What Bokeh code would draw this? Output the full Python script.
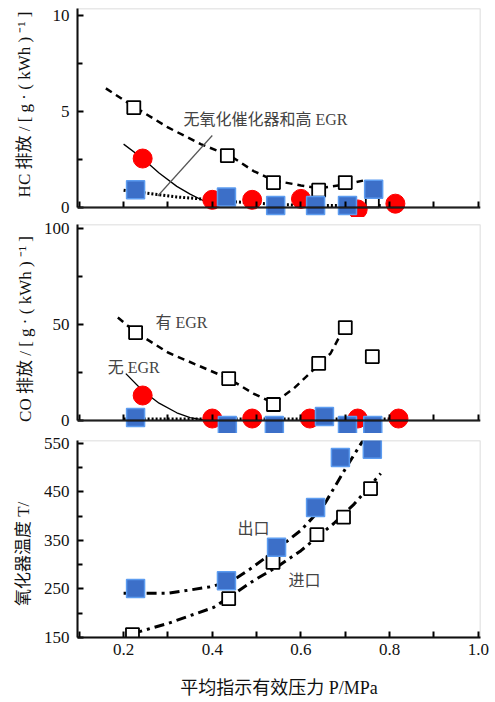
from bokeh.plotting import figure
from bokeh.layouts import column
from bokeh.models import Range1d, FixedTicker, BoxAnnotation, Label, PrintfTickFormatter
from bokeh.embed import file_html
from bokeh.resources import INLINE

# ---------------- data ----------------
# HC emission [g/(kWh)]
hc_egr_x = [0.223, 0.434, 0.538, 0.640, 0.700, 0.761]
hc_egr_y = [5.2, 2.7, 1.3, 0.9, 1.3, 0.35]
hc_noegr_x = [0.243, 0.400, 0.490, 0.600, 0.728, 0.813]
hc_noegr_y = [2.55, 0.4, 0.4, 0.45, -0.1, 0.2]
hc_cat_x = [0.227, 0.432, 0.543, 0.633, 0.705, 0.764]
hc_cat_y = [0.93, 0.55, 0.1, 0.1, 0.1, 0.95]
# HC trend curves
hc_egr_fit_x = [0.16, 0.22, 0.30, 0.374, 0.44, 0.493, 0.54, 0.60, 0.64, 0.70, 0.74]
hc_egr_fit_y = [6.2, 5.3, 4.17, 3.3, 2.7, 1.9, 1.4, 1.15, 1.0, 1.2, 1.4]
hc_noegr_fit_x = [0.20, 0.243, 0.28, 0.32, 0.35, 0.38, 0.42]
hc_noegr_fit_y = [3.3, 2.55, 1.8, 1.1, 0.7, 0.35, 0.15]
hc_cat_fit_x = [0.20, 0.25, 0.32, 0.40, 0.45, 0.55, 0.65, 0.78]
hc_cat_fit_y = [0.9, 0.75, 0.55, 0.4, 0.3, 0.15, 0.1, 0.1]
hc_leader_x = [0.277, 0.400]
hc_leader_y = [0.6, 3.75]

# CO emission [g/(kWh)]
co_egr_x = [0.227, 0.437, 0.538, 0.640, 0.700, 0.761]
co_egr_y = [45.8, 21.8, 8.3, 29.7, 48.4, 33.3]
co_noegr_x = [0.243, 0.400, 0.490, 0.620, 0.728, 0.820]
co_noegr_y = [13.0, 1.0, 1.0, 1.0, 1.0, 1.0]
co_cat_x = [0.227, 0.434, 0.540, 0.653, 0.705, 0.762]
co_cat_y = [1.5, -2.6, -2.6, 2.0, -2.6, -2.6]
co_egr_fit_x = [0.187, 0.227, 0.30, 0.437, 0.493, 0.538, 0.584, 0.64, 0.667, 0.69]
co_egr_fit_y = [53.6, 46.0, 35.4, 21.8, 14.0, 9.0, 16.7, 29.0, 35.0, 45.0]
co_noegr_fit_x = [0.205, 0.243, 0.28, 0.32, 0.35, 0.38]
co_noegr_fit_y = [24.4, 15.5, 9.0, 4.0, 1.5, 0.3]
co_cat_fit_x = [0.20, 0.50, 0.80]
co_cat_fit_y = [0.8, 0.8, 0.8]

# Oxidation catalyst temperature
t_out_x = [0.227, 0.432, 0.545, 0.633, 0.689, 0.761]
t_out_y = [251, 267, 336, 418, 521, 538]
t_in_x = [0.220, 0.437, 0.537, 0.636, 0.696, 0.757]
t_in_y = [156, 230, 305, 362, 398, 457]
t_out_fit_x = [0.20, 0.30, 0.40, 0.45, 0.49, 0.55, 0.60, 0.65, 0.705, 0.74]
t_out_fit_y = [241, 241, 255, 270, 294, 335, 371, 420, 505, 556]
t_in_fit_x = [0.22, 0.30, 0.403, 0.493, 0.55, 0.60, 0.674, 0.72, 0.78]
t_in_fit_y = [158, 179, 212, 267, 298, 329, 385, 425, 488]

x_major = [0.2, 0.4, 0.6, 0.8, 1.0]
x_minor = [0.1, 0.3, 0.5, 0.7, 0.9]

SERIF = "'Liberation Serif'"
MIXED = "'Liberation Serif', 'Noto Sans CJK SC'"
NB = "\u00a0"

RED = "#ff0000"
BLUE_FILL = "#3c6fc8"
BLUE_LINE = "#5c9cf0"


def make_fig(y0, y1, frame_h, top_b, bottom_b, ymaj, ymin, ylabel, standoff, bottom_axis=True):
    p = figure(output_backend="svg", toolbar_location=None,
               frame_width=403, frame_height=frame_h,
               x_range=Range1d(0.096, 1.005), y_range=Range1d(y0, y1),
               min_border_left=77, min_border_right=15,
               min_border_top=top_b, min_border_bottom=bottom_b,
               outline_line_color=None, background_fill_color="white",
               border_fill_color="white")
    p.grid.visible = False
    ya = p.yaxis[0]
    ya.ticker = FixedTicker(ticks=ymaj, minor_ticks=ymin)
    ya.axis_line_width = 2
    ya.major_tick_line_width = 2
    ya.minor_tick_line_width = 2
    ya.major_tick_in = 6
    ya.major_tick_out = 0
    ya.minor_tick_in = 5
    ya.minor_tick_out = 0
    ya.major_label_text_font = SERIF
    ya.major_label_text_font_size = "17px"
    ya.major_label_text_color = "#111111"
    ya.major_label_standoff = 8
    ya.axis_label = ylabel
    ya.axis_label_text_font = MIXED
    ya.axis_label_text_font_size = "17px"
    ya.axis_label_text_font_style = "normal"
    ya.axis_label_text_color = "#111111"
    ya.axis_label_standoff = standoff
    xa = p.xaxis[0]
    xa.axis_line_width = 2
    xa.major_tick_line_width = 2
    xa.minor_tick_line_width = 2
    xa.major_tick_in = 6
    xa.major_tick_out = 0
    xa.minor_tick_in = 6
    xa.minor_tick_out = 0
    if not bottom_axis:
        # ticks only (as minor ticks, so no tick labels are drawn)
        xa.ticker = FixedTicker(ticks=[], minor_ticks=sorted(x_major + x_minor))
        xa.fixed_location = ymaj[0]
        xa.major_label_standoff = 0
        ya.bounds = (ymaj[0], y1)
        p.add_layout(BoxAnnotation(bottom=ymaj[0], fill_color=None, fill_alpha=0,
                                   line_color="#666666", line_width=1.5))
    else:
        xa.ticker = FixedTicker(ticks=x_major, minor_ticks=x_minor)
        p.add_layout(BoxAnnotation(fill_color=None, fill_alpha=0,
                                   line_color="#666666", line_width=1.5))
    return p


# ---------------- HC panel ----------------
p1 = make_fig(-0.52, 10.36, 209, 8, 0, [0, 5, 10], [2.5, 7.5],
              NB * 4 + "HC 排放 / [ g · ( kWh ) ⁻¹ ]", 16, bottom_axis=False)
p1.line(hc_egr_fit_x, hc_egr_fit_y, line_color="black", line_width=2.5, line_dash="7 5")
p1.line(hc_noegr_fit_x, hc_noegr_fit_y, line_color="black", line_width=1.3)
p1.line(hc_cat_fit_x, hc_cat_fit_y, line_color="black", line_width=3, line_dash="2 2")
p1.line(hc_leader_x, hc_leader_y, line_color="#555555", line_width=1.2)
p1.scatter(hc_egr_x, hc_egr_y, marker="square", size=13, fill_color="white",
           line_color="black", line_width=1.8)
p1.scatter(hc_noegr_x, hc_noegr_y, marker="circle", size=19, fill_color=RED, line_color=RED)
p1.scatter(hc_cat_x, hc_cat_y, marker="square", size=18, fill_color=BLUE_FILL,
           line_color=BLUE_LINE, line_width=1.5)
p1.add_layout(Label(x=0.335, y=4.6, text="无氧化催化器和高 EGR", text_font=MIXED,
                    text_font_size="16px", text_baseline="middle", text_align="left"))

# ---------------- CO panel ----------------
p2 = make_fig(-6.8, 102.1, 209, 7, 0, [0, 50, 100], [25, 75],
              "CO 排放 / [ g · ( kWh ) ⁻¹ ]", 6, bottom_axis=False)
p2.line(co_egr_fit_x, co_egr_fit_y, line_color="black", line_width=2.5, line_dash="7 5")
p2.line(co_noegr_fit_x, co_noegr_fit_y, line_color="black", line_width=1.3)
p2.line(co_cat_fit_x, co_cat_fit_y, line_color="black", line_width=3, line_dash="2 2")
p2.scatter(co_egr_x, co_egr_y, marker="square", size=13, fill_color="white",
           line_color="black", line_width=1.8)
p2.scatter(co_noegr_x, co_noegr_y, marker="circle", size=19, fill_color=RED, line_color=RED)
p2.scatter(co_cat_x, co_cat_y, marker="square", size=18, fill_color=BLUE_FILL,
           line_color=BLUE_LINE, line_width=1.5)
p2.add_layout(Label(x=0.272, y=51, text="有 EGR", text_font=MIXED,
                    text_font_size="16px", text_baseline="middle", text_align="left"))
p2.add_layout(Label(x=0.164, y=27.5, text="无 EGR", text_font=MIXED,
                    text_font_size="16px", text_baseline="middle", text_align="left"))

# ---------------- Temperature panel ----------------
p3 = make_fig(150, 556, 197, 7, 0, [150, 250, 350, 450, 550], [200, 300, 400, 500],
              "氧化器温度 T/" + NB * 7, 8, bottom_axis=True)
xa = p3.xaxis[0]
xa.formatter = PrintfTickFormatter(format="%.1f")
xa.major_label_text_font = SERIF
xa.major_label_text_font_size = "17px"
xa.major_label_text_color = "#111111"
xa.major_label_standoff = 6
xa.axis_label = "平均指示有效压力 P/MPa"
xa.axis_label_text_font = MIXED
xa.axis_label_text_font_size = "18px"
xa.axis_label_text_font_style = "normal"
xa.axis_label_text_color = "#111111"
xa.axis_label_standoff = 20
p3.line(t_out_fit_x, t_out_fit_y, line_color="black", line_width=3, line_dash="10 5 3 5")
p3.line(t_in_fit_x, t_in_fit_y, line_color="black", line_width=3, line_dash="10 5 3 5")
p3.scatter(t_in_x, t_in_y, marker="square", size=13, fill_color="white",
           line_color="black", line_width=1.8)
p3.scatter(t_out_x, t_out_y, marker="square", size=18, fill_color=BLUE_FILL,
           line_color=BLUE_LINE, line_width=1.5)
p3.add_layout(Label(x=0.457, y=375, text="出口", text_font=MIXED,
                    text_font_size="16px", text_baseline="middle", text_align="left"))
p3.add_layout(Label(x=0.572, y=267, text="进口", text_font=MIXED,
                    text_font_size="16px", text_baseline="middle", text_align="left"))

layout = column(p1, p2, p3, spacing=0)
open("out.html", "w").write(file_html(layout, INLINE))
